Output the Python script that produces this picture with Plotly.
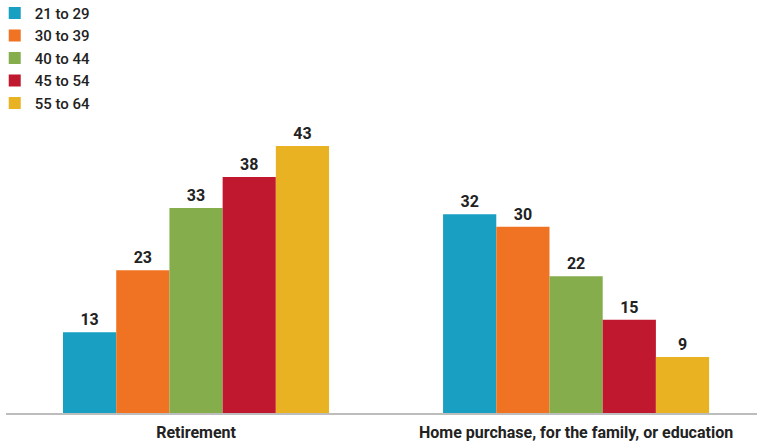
import plotly.graph_objects as go

categories = ["Retirement", "Home purchase, for the family, or education"]
age_groups = ["21 to 29", "30 to 39", "40 to 44", "45 to 54", "55 to 64"]
values = {
    "21 to 29": [13, 32],
    "30 to 39": [23, 30],
    "40 to 44": [33, 22],
    "45 to 54": [38, 15],
    "55 to 64": [43, 9],
}
colors = ["#189fc1", "#f07323", "#85ad4c", "#c0182f", "#e8b222"]

fig = go.Figure()
for name, col in zip(age_groups, colors):
    fig.add_trace(go.Bar(
        x=[0, 1], y=values[name], name=name,
        marker=dict(color=col, line=dict(width=0)),
        text=[str(v) for v in values[name]], textposition="outside",
        textfont=dict(family="Roboto", size=16, color="#222222", weight="bold"),
        cliponaxis=False,
    ))

fig.update_layout(
    width=757, height=444,
    margin=dict(l=6, r=0, t=0, b=31, autoexpand=False),
    paper_bgcolor="white", plot_bgcolor="white",
    barmode="group", bargap=0.3, bargroupgap=0,
    font=dict(family="Roboto", color="#222222"),
    legend=dict(
        x=-0.015, y=1.008, xanchor="left", yanchor="top",
        font=dict(family="Roboto", size=15, color="#222222", weight=500),
        itemsizing="constant", tracegroupgap=0, bgcolor="rgba(0,0,0,0)",
        itemwidth=30,
    ),
    xaxis=dict(
        range=[-0.5, 1.476], tickmode="array", tickvals=[0, 1], ticktext=categories,
        showline=True, linecolor="#bdbdbd", linewidth=1.5, showgrid=False, zeroline=False,
        ticks="", ticklabelstandoff=4,
        tickfont=dict(family="Roboto", size=16, color="#222222", weight="bold"),
    ),
    yaxis=dict(range=[0, 66.5], visible=False, showgrid=False, zeroline=False),
    showlegend=True,
)

fig.write_html("out.html", config={"displayModeBar": False},
               post_script="document.body.style.margin='0';")
